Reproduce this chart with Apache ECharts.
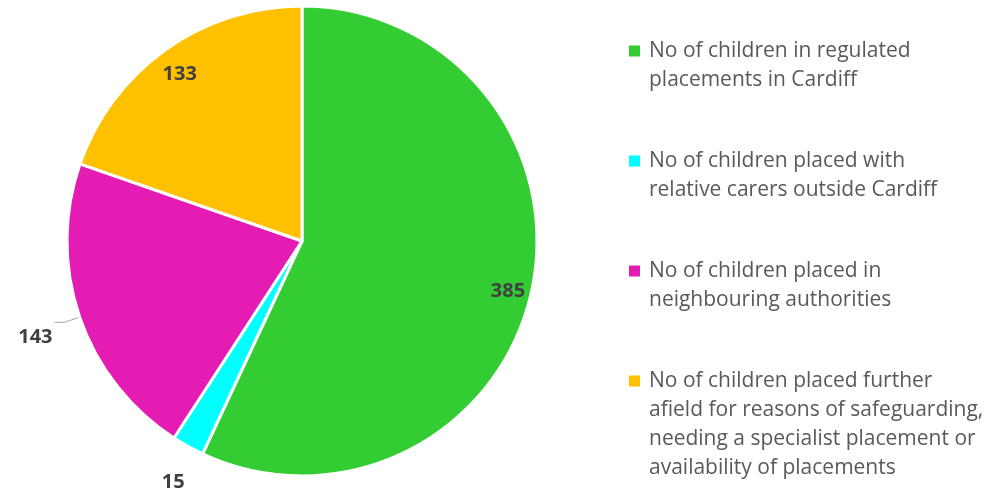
<!DOCTYPE html>
<html>
<head>
<meta charset="utf-8">
<script src="https://cdn.jsdelivr.net/npm/echarts@6/dist/echarts.min.js"></script>
<style>
  html, body { margin: 0; padding: 0; background: #fff; }
  #chart { width: 1001px; height: 489px; }
</style>
</head>
<body>
<div id="chart"></div>
<script>
// categories (legend text keeps the original line breaks)
const categories = [
  'No of children in regulated\nplacements in Cardiff',
  'No of children placed with\nrelative carers outside Cardiff',
  'No of children placed in\nneighbouring authorities',
  'No of children placed further\nafield for reasons of safeguarding,\nneeding a specialist placement or\navailability of placements'
]
const values = [385, 15, 143, 133]
const colors = ['#33CC33', '#00FFFF', '#E41CB4', '#FFC000']

const CENTER = [302, 241]
const R = 235
const FONT = 'Open Sans'

const valueLabel = {
  formatter: '{c}',
  color: '#404040',
  fontFamily: FONT,
  fontSize: 20,
  fontWeight: 'bold',
  rich: { v: {} }
}

// main pie, only the outside label (143 with a leader line)
const mainData = values.map((v, i) => {
  const item = { name: categories[i], value: v, itemStyle: { color: colors[i] } }
  if (i === 2) {
    item.label = {
      show: true,
      position: 'outside',
      distanceToLabelLine: 2,
      ...valueLabel,
      padding: [30, 0, 0, 0]
    }
    item.labelLine = {
      show: true,
      length: 16,
      length2: 10,
      lineStyle: { color: '#A6A6A6', width: 1 }
    }
  }
  return item
})

// transparent overlay pies, used only to place the labels at other radii
function overlay(radius, shown, padding) {
  return {
    type: 'pie',
    center: CENTER,
    radius: [0, radius],
    startAngle: 90,
    clockwise: true,
    silent: true,
    avoidLabelOverlap: false,
    itemStyle: { color: 'rgba(0,0,0,0)' },
    label: { show: false },
    labelLine: { show: false },
    emphasis: { disabled: true },
    data: values.map((v, i) => ({
      name: categories[i],
      value: v,
      label: { show: shown.indexOf(i) >= 0, position: 'inside', ...valueLabel, padding: padding }
    }))
  }
}

const chart = echarts.init(document.getElementById('chart'))
chart.setOption({
  animation: false,
  legend: {
    orient: 'vertical',
    left: 629,
    top: 36.5,
    padding: 0,
    itemWidth: 11,
    itemHeight: 11,
    itemGap: 56,
    icon: 'rect',
    selectedMode: false,
    itemStyle: { borderWidth: 0 },
    textStyle: {
      color: '#595959',
      fontFamily: FONT,
      fontSize: 21,
      lineHeight: 29,
      height: 29,
      padding: [0, 0, 0, 4],
      rich: { t: {} }
    },
    data: categories
  },
  series: [
    {
      type: 'pie',
      center: CENTER,
      radius: R,
      startAngle: 90,
      clockwise: true,
      avoidLabelOverlap: false,
      itemStyle: { borderColor: '#fff', borderWidth: 3 },
      label: { show: false },
      labelLine: { show: false },
      emphasis: { disabled: true },
      data: mainData
    },
    overlay(R * 1.77, [0, 3], [10, 0, 0, 0]),
    overlay(R * 2.32, [1], [0, 0, 0, 10])
  ]
})
</script>
</body>
</html>
